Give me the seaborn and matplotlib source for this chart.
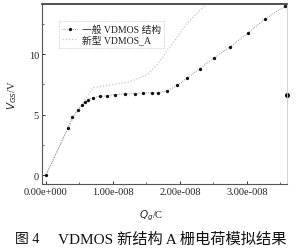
import matplotlib
matplotlib.use("Agg")
import matplotlib.pyplot as plt
import seaborn as sns
import pandas as pd
import numpy as np
from matplotlib.ticker import FuncFormatter, MultipleLocator

sns.set_style("ticks")
plt.rcParams['font.family'] = ['Liberation Serif', 'Noto Sans CJK SC']

# Series 1: 一般 VDMOS 结构 (Qg in C, Vgs in V)
qg_normal = [0.0, 0.33e-8, 0.39e-8, 0.48e-8, 0.54e-8, 0.58e-8, 0.63e-8, 0.70e-8, 0.81e-8,
             0.91e-8, 1.03e-8, 1.18e-8, 1.33e-8, 1.45e-8, 1.58e-8, 1.67e-8, 1.81e-8,
             1.96e-8, 2.10e-8, 2.30e-8, 2.51e-8, 2.75e-8, 3.01e-8, 3.27e-8, 3.57e-8]
vgs_normal = [0.0, 3.9, 4.8, 5.4, 5.75, 6.0, 6.2, 6.4, 6.5,
              6.55, 6.65, 6.7, 6.72, 6.8, 6.8, 6.8, 6.95,
              7.4, 8.0, 8.8, 9.7, 10.6, 11.7, 12.9, 13.95]
qg_outlier = [3.6e-8]
vgs_outlier = [6.6]

# Series 2: 新型 VDMOS_A
qg_new = [0.0, 0.33e-8, 0.48e-8, 0.58e-8, 0.70e-8, 0.96e-8, 1.25e-8, 1.51e-8, 1.66e-8,
          1.81e-8, 1.96e-8, 2.10e-8, 2.27e-8, 2.40e-8]
vgs_new = [0.0, 3.9, 5.4, 6.2, 7.2, 7.45, 7.7, 8.3, 9.1,
           10.3, 11.4, 12.5, 13.45, 14.2]

xticks = [0, 1e-8, 2e-8, 3e-8]
yticks = [0, 5, 10]

fig = plt.figure(figsize=(3.0, 2.51), dpi=100)
ax = fig.add_axes([0.139, 0.263, 0.818, 0.717])

df1 = pd.DataFrame({"Qg": qg_normal, "Vgs": vgs_normal})
df2 = pd.DataFrame({"Qg": qg_new, "Vgs": vgs_new})

sns.lineplot(data=df2, x="Qg", y="Vgs", ax=ax, sort=False, color="#c4c4c4",
             linestyle=(0, (1, 1.5)), linewidth=0.9, label="新型 VDMOS_A")
sns.lineplot(data=df1, x="Qg", y="Vgs", ax=ax, sort=False, color="#777777",
             linestyle=(0, (1, 1.5)), linewidth=0.6, marker="o", markersize=2.4,
             markeredgewidth=0, markerfacecolor="#111111", label="一般 VDMOS 结构")
ax.plot(qg_outlier, vgs_outlier, "o", color="#111111", markersize=2.6, clip_on=False)

ax.set_xlim(-0.064e-8, 3.6e-8)
ax.set_ylim(-0.74, 14.13)
ax.set_xticks(xticks)
ax.set_yticks(yticks)
ax.xaxis.set_minor_locator(MultipleLocator(0.5e-8))
ax.yaxis.set_minor_locator(MultipleLocator(2.5))

def fmt(v, pos):
    if abs(v) < 1e-20:
        return "0.00e+000"
    m, e = f"{v:.2e}".split("e")
    sign = "-" if int(e) < 0 else "+"
    return f"{m}e{sign}{abs(int(e)):03d}"

ax.xaxis.set_major_formatter(FuncFormatter(fmt))
ax.tick_params(axis="both", which="both", direction="in", labelsize=7.5, pad=2,
               color="#333333", labelcolor="#222222")
ax.tick_params(which="major", length=2.5, width=0.7)
ax.tick_params(which="minor", length=1.5, width=0.5)

for s in ["left", "bottom"]:
    ax.spines[s].set_color("#555555")
    ax.spines[s].set_linewidth(0.8)
ax.spines["top"].set_color("#333333")
ax.spines["top"].set_linewidth(1.2)
ax.spines["right"].set_color("#cccccc")
ax.spines["right"].set_linewidth(0.6)
ax.spines["top"].set_visible(True)
ax.spines["right"].set_visible(True)

ax.set_xlabel(r"$Q_g$/C", fontsize=7.5, labelpad=2, color="#222222")
ax.xaxis.set_label_coords(0.445, -0.13)
ax.set_ylabel(r"$V_{GS}$/V", fontsize=7.5, labelpad=7, color="#222222")

h, l = ax.get_legend_handles_labels()
leg = ax.legend(h[::-1], l[::-1], loc="upper left", bbox_to_anchor=(0.05, 0.93),
                fontsize=7, frameon=True, handlelength=1.6, handletextpad=0.5,
                borderpad=0.3, labelspacing=0.1, fancybox=False, labelcolor="#222222")
leg.get_frame().set_edgecolor("#bbbbbb")
leg.get_frame().set_linestyle((0, (1, 1)))
leg.get_frame().set_linewidth(0.6)

fig.text(0.05, 0.045, "图 4", fontsize=10, ha="left", va="center",
         fontweight="medium", color="#111111")
fig.text(0.193, 0.045, "VDMOS 新结构 A 栅电荷模拟结果", fontsize=11, ha="left",
         va="center", fontweight="medium", color="#111111")

fig.savefig("out.png", dpi=100)
